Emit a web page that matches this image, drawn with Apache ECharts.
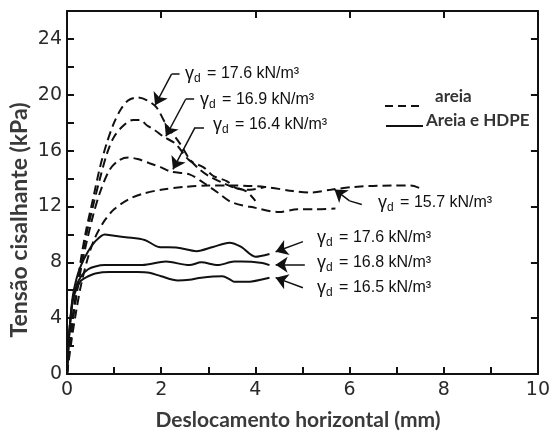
<!DOCTYPE html>
<html>
<head>
<meta charset="utf-8">
<script src="https://cdn.jsdelivr.net/npm/echarts@6/dist/echarts.min.js"></script>
<style>
  html, body { margin: 0; padding: 0; background: #fff; }
  #chart { width: 553px; height: 434px; }
</style>
</head>
<body>
<div id="chart"></div>
<script>
// curvas: [deslocamento (mm), tensão (kPa)]
// areia (tracejado)
var areia176 = [[0,0],[0.1,3.5],[0.2,6],[0.3,8.3],[0.4,10.2],[0.55,12.5],[0.7,14.8],[0.85,16.6],[1.0,18],[1.15,19],[1.3,19.6],[1.5,19.8],[1.7,19.6],[1.9,19.1],[2.1,17.9],[2.4,16.5],[2.6,15.4],[2.8,14.7],[3.0,14.2],[3.3,13.7],[3.5,13.4],[3.8,13.1],[4.0,12.4]];
var areia169 = [[0,0],[0.1,3.4],[0.2,5.8],[0.3,8],[0.4,9.8],[0.55,12],[0.7,14],[0.85,15.8],[1.0,17],[1.2,17.8],[1.4,18.2],[1.55,18.2],[1.7,17.8],[1.85,17.5],[2.05,17.0],[2.3,16.5],[2.6,15.3],[2.9,14.8],[3.1,14.2],[3.4,13.8],[3.6,13.3],[3.9,13.2],[4.2,13.4]];
var areia164 = [[0,0],[0.1,3.3],[0.2,5.6],[0.3,7.6],[0.4,9.2],[0.55,11.3],[0.7,13],[0.9,14.6],[1.1,15.3],[1.3,15.5],[1.5,15.4],[1.75,15.1],[2.0,14.8],[2.2,14.5],[2.6,14.3],[2.9,13.7],[3.2,13.0],[3.5,12.3],[4.0,11.9],[4.5,11.6],[4.9,11.8],[5.3,11.8],[5.7,11.85]];
var areia157 = [[0,0],[0.1,2.5],[0.2,4.6],[0.3,6.4],[0.45,8.4],[0.6,9.8],[0.8,11],[1.0,11.8],[1.3,12.5],[1.6,12.9],[2.0,13.2],[2.5,13.4],[3.0,13.5],[3.5,13.5],[4.2,13.4],[4.8,13.1],[5.2,13.0],[5.6,13.2],[6.1,13.4],[6.9,13.5],[7.3,13.5],[7.5,13.3]];
// areia e HDPE (contínuo)
var hdpe176 = [[0,0],[0.05,3],[0.12,5.5],[0.2,6.8],[0.3,7.8],[0.45,8.8],[0.6,9.5],[0.8,10],[1.0,9.9],[1.25,9.8],[1.65,9.6],[1.95,9.1],[2.35,9.05],[2.75,8.8],[3.1,9.1],[3.45,9.4],[3.7,9.1],[4.0,8.4],[4.3,8.6]];
var hdpe168 = [[0,0],[0.05,3],[0.12,5.3],[0.2,6.3],[0.3,7],[0.45,7.5],[0.6,7.7],[0.8,7.8],[1.0,7.8],[1.6,7.8],[2.1,8.05],[2.6,7.8],[2.85,8.0],[3.2,7.8],[3.55,8.05],[3.7,8.05],[4.15,7.95],[4.3,7.8]];
var hdpe165 = [[0,0],[0.05,3],[0.12,5.2],[0.2,6.1],[0.3,6.7],[0.45,7.0],[0.6,7.2],[0.9,7.3],[1.5,7.3],[1.75,7.25],[2.0,7.0],[2.35,6.7],[2.6,6.75],[2.85,6.9],[3.3,7.0],[3.45,6.8],[3.55,6.6],[3.8,6.6],[4.3,6.9]];

// setas das anotações (coordenadas do gráfico): trecho sem ponta + trecho com ponta
var setasTraco = [
  [[2.39,21.48],[2.22,21.48]],
  [[2.70,19.68],[2.52,19.68]],
  [[2.91,17.67],[2.72,17.67]],
  [[6.26,12.14],[6.0,12.4]]
];
var setasPonta = [
  [[2.22,21.48],[1.87,19.25]],
  [[2.52,19.68],[2.10,17.03]],
  [[2.72,17.67],[2.25,14.66]],
  [[6.0,12.4],[5.68,13.22]],
  [[5.01,9.48],[4.43,8.76]],
  [[5.05,7.83],[4.43,7.83]],
  [[5.01,6.18],[4.43,6.90]]
];
var rotulos = ['17.6','16.9','16.4','15.7','17.6','16.8','16.5'];
var rotulosPos = [[185,76],[200,102],[213,127],[378,205],[317,240],[317,265],[317,290]];

var yTicks = [0,4,8,12,16,20,24];

var chart = echarts.init(document.getElementById('chart'));

function serie (data, dashed) {
  return {
    type: 'line',
    data: data,
    xAxisIndex: 0,
    yAxisIndex: 0,
    showSymbol: false,
    smooth: 0.3,
    lineStyle: { color: '#111', width: 2, type: dashed ? [9, 5] : 'solid' },
    silent: true
  }
}

function rotulo (i) {
  return {
    type: 'text',
    left: rotulosPos[i][0],
    top: rotulosPos[i][1] - 11,
    style: {
      text: '{g|γ}{s|d}{t| = ' + rotulos[i] + ' kN/m³}',
      fill: '#111',
      rich: {
        g: { fontSize: 18, fontFamily: 'Liberation Sans', lineHeight: 22, verticalAlign: 'middle' },
        s: { fontSize: 12, fontFamily: 'Liberation Sans', lineHeight: 22, verticalAlign: 'bottom', padding: [8, 2, 0, 0] },
        t: { fontSize: 16, fontFamily: 'Liberation Sans', lineHeight: 22, verticalAlign: 'middle' }
      }
    }
  }
}

var graphics = [];
for (var i = 0; i < rotulos.length; i++) graphics.push(rotulo(i));
// legenda
graphics.push({ type: 'line', shape: { x1: 385, y1: 106, x2: 421, y2: 106 }, style: { stroke: '#111', lineWidth: 2, lineDash: [8, 5] } });
graphics.push({ type: 'text', left: 435, top: 88, style: { text: 'areia', fontSize: 17, fontWeight: 'bold', fontFamily: 'Lato', fill: '#333' } });
graphics.push({ type: 'line', shape: { x1: 386, y1: 126, x2: 423, y2: 126 }, style: { stroke: '#111', lineWidth: 2 } });
graphics.push({ type: 'text', left: 426, top: 112, style: { text: 'Areia e HDPE', fontSize: 17, fontWeight: 'bold', fontFamily: 'Lato', fill: '#333' } });
// títulos dos eixos
graphics.push({ type: 'text', x: 20, y: 220, rotation: Math.PI / 2, style: { text: 'Tensão cisalhante (kPa)', fontSize: 23, fontWeight: 'bold', fontFamily: 'Lato', fill: '#3a3a3a', align: 'center', verticalAlign: 'middle' } });
graphics.push({ type: 'text', x: 298, y: 420, style: { text: 'Deslocamento horizontal (mm)', fontSize: 21, fontWeight: 'bold', fontFamily: 'Lato', fill: '#3a3a3a', align: 'center', verticalAlign: 'middle' } });

var eixoLinha = { show: true, onZero: false, lineStyle: { color: '#111', width: 2 } };
var eixoTick = { inside: true, length: 7, lineStyle: { color: '#111', width: 2 } };

var option = {
  animation: false,
  backgroundColor: '#fff',
  grid: { left: 67, right: 6, top: 11, bottom: 60 },
  xAxis: [{
    type: 'value', position: 'bottom', min: 0, max: 10, interval: 1,
    axisLine: eixoLinha,
    axisTick: eixoTick,
    axisLabel: { margin: 7, fontSize: 19, fontFamily: 'DejaVu Sans', color: '#2a2a2a',
      formatter: function (v) { return v % 2 === 0 ? String(v) : '' } },
    splitLine: { show: false }
  }, {
    type: 'value', position: 'top', min: 0, max: 10, interval: 2,
    axisLine: eixoLinha,
    axisTick: eixoTick,
    axisLabel: { show: false },
    splitLine: { show: false }
  }],
  yAxis: [{
    type: 'value', position: 'left', min: 0, max: 26, interval: 2,
    axisLine: eixoLinha,
    axisTick: eixoTick,
    axisLabel: { margin: 5, fontSize: 19, fontFamily: 'DejaVu Sans', color: '#2a2a2a',
      formatter: function (v) { return yTicks.indexOf(v) >= 0 ? String(v) : '' } },
    splitLine: { show: false }
  }, {
    type: 'value', position: 'right', min: 0, max: 26, interval: 4,
    axisLine: eixoLinha,
    axisTick: eixoTick,
    axisLabel: { show: false },
    splitLine: { show: false }
  }],
  series: [
    serie(areia176, true),
    serie(areia169, true),
    serie(areia164, true),
    serie(areia157, true),
    serie(hdpe176, false),
    serie(hdpe168, false),
    serie(hdpe165, false),
    {
      type: 'lines',
      coordinateSystem: 'cartesian2d',
      symbol: ['none', 'none'],
      lineStyle: { color: '#111', width: 1.5, opacity: 1 },
      data: setasTraco.map(function (s) { return { coords: s } }),
      silent: true
    },
    {
      type: 'lines',
      coordinateSystem: 'cartesian2d',
      symbol: ['none', 'arrow'],
      symbolSize: [7, 12],
      lineStyle: { color: '#111', width: 1.5, opacity: 1 },
      data: setasPonta.map(function (s) { return { coords: s } }),
      silent: true
    }
  ],
  graphic: graphics
};
chart.setOption(option);
</script>
</body>
</html>
